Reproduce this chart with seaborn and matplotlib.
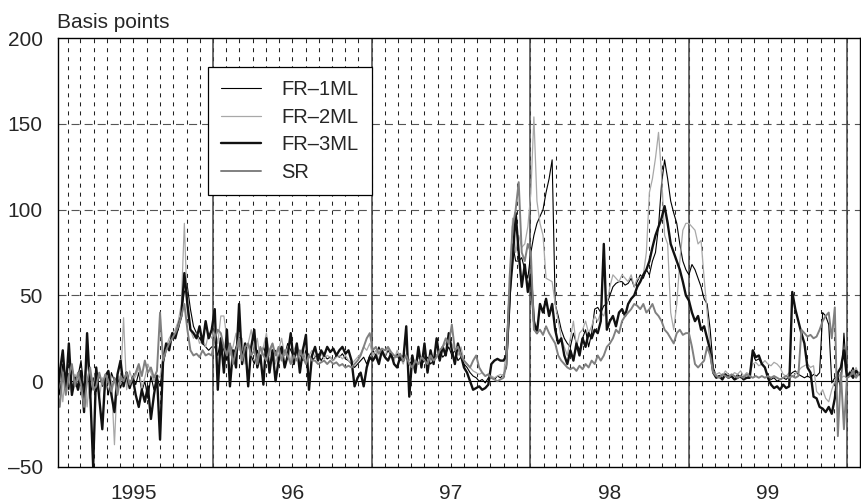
import numpy as np
import pandas as pd
import matplotlib.pyplot as plt
import seaborn as sns

# Weekly observations (Fridays), spreads in basis points
weeks = pd.date_range('1995-01-06', '2000-01-28', freq='W-FRI')

fr1ml = [
    # 1995
    5, -8, 10, 2, -5, 8, 0, 3, 12, -5, 20, -10, 2,
    -6, 4, -3, 2, -8, 5, 0, 3, -4, 2, 0, -3, 3,
    -2, 5, -6, 0, -10, 3, -5, 2, -3, 10, 18, 22, 25,
    28, 30, 40, 52, 55, 42, 32, 28, 25, 22, 20, 18, 20,
    # 1996
    20, 15, 25, 18, 12, 22, 15, 20, 25, 12, 18, 22, 15,
    10, 18, 12, 20, 15, 8, 14, 18, 12, 20, 15, 22, 18,
    14, 20, 16, 12, 18, 15, 12, 14, 16, 12, 15, 13, 14,
    12, 15, 14, 16, 13, 12, 10, 8, 10, 12, 14, 10, 15,
    # 1997
    18, 15, 20, 16, 14, 18, 15, 13, 16, 12, 15, 14, 10,
    12, 8, 15, 10, 12, 14, 10, 12, 15, 18, 14, 16, 20,
    15, 18, 12, 14, 10, 8, 5, 3, 2, 0, 1, -1, 2,
    2, 1, 3, 2, 4, 8, 40, 80, 70, 70, 72, 65, 60,
    # 1998
    75, 85, 92, 96, 100, 110, 118, 129, 45, 38, 30, 25, 22,
    20, 28, 22, 18, 25, 30, 20, 28, 42, 43, 40, 44, 45,
    50, 55, 57, 58, 58, 56, 57, 60, 55, 58, 62, 60, 65,
    62, 70, 75, 90, 115, 129, 118, 105, 98, 92, 80, 70, 65,
    # 1999
    62, 68, 65, 60, 55, 48, 45, 30, 8, 3, 2, 4, 3,
    2, 3, 1, 4, 2, 3, 2, 3, 16, 12, 13, 10, 8,
    3, 1, 2, 0, 1, 2, 1, 3, 5, 6, 4, 3, 2,
    3, 2, 4, 3, 5, 40, 38, 33, -1, 2, 3, -5, 28, 2,
    # 2000
    4, 8, 3, 5,
]

fr2ml = [
    # 1995
    -5, 8, -12, 5, 2, -8, 4, 0, -6, 3, -15, 5, -3,
    8, -10, 2, -5, 6, 0, -37, 4, -2, 37, -5, 6, 0,
    3, 8, -4, 2, 10, 5, 0, 4, 2, 15, 20, 25, 28,
    30, 35, 45, 92, 40, 30, 25, 28, 22, 25, 20, 28, 25,
    # 1996
    30, 22, 38, 38, 25, 15, 20, 28, 18, 25, 10, 22, 30,
    18, 25, 12, 20, 28, 15, 22, 10, 18, 25, 15, 20, 12,
    18, 22, 15, 20, 12, 15, 18, 14, 12, 16, 13, 15, 14,
    12, 14, 15, 13, 15, 12, 10, 12, 14, 16, 20, 18, 22,
    # 1997
    15, 18, 12, 16, 14, 20, 15, 12, 18, 14, 10, 16, 12,
    15, 10, 14, 12, 16, 10, 14, 12, 15, 18, 20, 22, 25,
    22, 18, 15, 20, 12, 10, 8, 6, 5, 4, 5, 3, 4,
    3, 2, 3, 4, 3, 20, 50, 95, 75, 85, 78, 80, 90,
    # 1998
    110, 154, 105, 92, 85, 60, 59, 58, 45, 35, 25, 20, 15,
    25, 35, 20, 28, 30, 35, 28, 32, 38, 35, 40, 38, 45,
    55, 62, 60, 58, 62, 60, 58, 62, 55, 60, 60, 62, 75,
    110, 118, 130, 145, 120, 85, 80, 40, 30, 45, 70, 88, 92,
    # 1999
    92, 90, 88, 80, 82, 60, 40, 20, 6, 4, 5, 3, 6,
    4, 3, 5, 4, 6, 3, 5, 4, 10, 11, 9, 10, 12,
    10, 9, 11, 10, 8, 4, 3, 5, 3, 4, 6, 8, 9,
    10, 8, 9, -6, -8, -5, -10, -12, -5, 0, 5, 2, 3, 2,
    # 2000
    6, 4, 8, 3,
]

fr3ml = [
    # 1995
    -12, 5, 18, -5, 22, -8, 2, -5, 6, -18, 28, -5, -50,
    8, -10, -28, 3, 6, -8, -18, 4, 12, -3, 5, -4, 2,
    -8, -15, -5, -12, -3, -22, -8, 3, -34, 12, 22, 18, 28,
    25, 32, 38, 63, 45, 30, 28, 25, 32, 22, 35, 25, 30,
    # 1996
    42, -5, 25, 5, 30, -3, 18, 8, 45, 10, 22, -3, 20,
    30, 8, 15, -2, 25, 5, 18, 0, 12, 20, 8, 15, 28,
    10, 22, 5, 18, 27, -5, 15, 20, 12, 18, 15, 20, 17,
    19, 15, 18, 20, 16, 18, 12, -3, 2, 5, -3, 8, 14,
    # 1997
    12, 15, 10, 18, 14, 12, 16, 10, 8, 14, 12, 32, -9,
    15, 5, 20, 8, 22, 5, 18, 10, 25, 12, 20, 15, 28,
    18, 10, 22, 15, 8, 5, 0, -5, -4, -3, -5, -4, -2,
    10, 12, 13, 12, 12, 15, 50, 70, 98, 75, 55, 68, 52,
    # 1998
    62, 35, 28, 45, 40, 48, 38, 45, 30, 22, 25, 15, 10,
    18, 12, 22, 15, 25, 20, 28, 25, 30, 28, 35, 80, 30,
    35, 38, 32, 40, 42, 38, 45, 48, 50, 55, 58, 62, 65,
    70, 78, 85, 90, 95, 102, 92, 80, 75, 70, 65, 58, 50,
    # 1999
    47, 40, 35, 38, 30, 32, 25, 18, 5, 2, 3, 1, 4,
    2, 3, 1, 2, 3, 1, 2, 2, 18, 14, 15, 10, 8,
    2, -2, -4, -3, -5, -2, -4, -3, 52, 42, 35, 28, 22,
    8, 5, -9, -10, -15, -16, -18, -15, -19, -10, 5, 8, 18, 2,
    # 2000
    5, 2, 6, 4,
]

sr = [
    # 1995
    -5, -15, 5, -8, 3, 10, -3, 5, -2, -15, 0, 8, -5,
    -3, 5, -2, 4, 0, -6, 2, -8, 3, 0, 5, -2, 2,
    5, 10, 3, 12, 5, 8, 2, 6, 40, 12, 18, 22, 25,
    28, 32, 38, 45, 30, 18, 15, 16, 14, 18, 15, 16, 15,
    # 1996
    25, 30, 28, 20, 15, 22, 10, 18, 25, 12, 20, 22, 15,
    18, 10, 20, 15, 12, 18, 22, 15, 20, 12, 18, 15, 10,
    15, 12, 18, 14, 10, 15, 12, 12, 10, 11, 12, 10, 12,
    10, 11, 9, 10, 8, 9, 8, 10, 12, 15, 20, 25, 28,
    # 1997
    18, 20, 16, 19, 18, 20, 17, 15, 14, 16, 12, 15, 10,
    8, 12, 10, 14, 12, 10, 15, 12, 14, 18, 20, 25, 22,
    33, 18, 20, 15, 12, 10, 8, 12, 15, 8, 5, 3, 4,
    2, 1, 0, 1, 2, 10, 60, 90, 100, 116, 75, 70, 80,
    # 1998
    75, 30, 28, 30, 27, 32, 28, 25, 22, 15, 12, 10, 8,
    7, 8, 6, 9, 7, 10, 8, 12, 10, 15, 12, 15, 20,
    22, 25, 30, 28, 35, 38, 40, 42, 45, 44, 42, 45, 40,
    42, 45, 40, 38, 35, 30, 28, 25, 22, 28, 30, 27, 28,
    # 1999
    28, 20, 10, 8, 10, 12, 20, 15, 5, 3, 2, 4, 3,
    2, 4, 3, 2, 3, 2, 4, 3, 2, 3, 2, 3, 2,
    3, 2, 3, 2, 1, 2, 3, 2, 3, 2, 3, 30, 28,
    26, 27, 25, 26, 30, 35, 38, 40, 25, 43, -32, 5, -28, 2,
    # 2000
    3, 6, 2, 5,
]

series_names = ['FR–1ML', 'FR–2ML', 'FR–3ML', 'SR']
year_labels = ['1995', '96', '97', '98', '99']
ytick_vals = [-50, 0, 50, 100, 150, 200]
ytick_labels = ['–50', '0', '50', '100', '150', '200']

palette = {'FR–1ML': '#000000', 'FR–2ML': '#a8a8a8', 'FR–3ML': '#111111', 'SR': '#808080'}
widths = {'FR–1ML': 0.8, 'FR–2ML': 0.9, 'FR–3ML': 1.7, 'SR': 1.4}

all_vals = [fr1ml, fr2ml, fr3ml, sr]
for v in all_vals:
    assert len(v) == len(weeks), len(v)

df = pd.DataFrame({
    'date': np.tile(weeks, len(series_names)),
    'bp': np.concatenate(all_vals),
    'series': np.repeat(series_names, len(weeks)),
})

sns.set_style('white')
plt.rcParams['font.family'] = ['Liberation Sans', 'DejaVu Sans']
plt.rcParams['lines.scale_dashes'] = False

fig = plt.figure(figsize=(8.62, 5.01), dpi=100)
ax = fig.add_axes([58 / 862, 34 / 501, 802 / 862, 429 / 501])

# grid: monthly dashed verticals, solid year boundaries, dashed horizontals
months = pd.date_range('1995-02-01', '2000-01-01', freq='MS')
for m in months:
    ax.axvline(m, color='#222222', lw=0.75, ls=(0, (2.9, 3.6)), zorder=0.5)
for y in pd.date_range('1996-01-01', '2000-01-01', freq='YS'):
    ax.axvline(y, color='#444444', lw=1.1, zorder=0.6)
for v in [50, 100, 150]:
    ax.axhline(v, color='#555555', lw=0.8, ls=(0, (5.8, 3.6)), zorder=0.5)
ax.axhline(0, color='black', lw=0.8, zorder=0.6)

sns.lineplot(data=df, x='date', y='bp', hue='series', size='series',
             hue_order=series_names, size_order=series_names,
             palette=palette, sizes=widths, estimator=None, errorbar=None,
             ax=ax, zorder=2)

ax.set_xlim(pd.Timestamp('1995-01-09'), pd.Timestamp('2000-01-30'))
ax.set_ylim(-50, 200)
ax.set_yticks(ytick_vals)
ax.set_yticklabels(ytick_labels, fontsize=15)
mid_years = pd.date_range('1995-07-02', periods=len(year_labels), freq=pd.DateOffset(years=1))
ax.set_xticks(mid_years)
ax.set_xticklabels(year_labels, fontsize=15)
ax.tick_params(axis='x', length=0, pad=12)
ax.tick_params(axis='y', length=0, pad=11)
ax.set_xlabel('')
ax.set_ylabel('')
ax.grid(False)
for s in ax.spines.values():
    s.set_color('black')
    s.set_linewidth(1.0)

handles, labels = ax.get_legend_handles_labels()
keep = [(h, l) for h, l in zip(handles, labels) if l in series_names]
leg = ax.legend([h for h, _ in keep], [l for _, l in keep],
                loc='upper left', bbox_to_anchor=(0.187, 0.932),
                borderaxespad=0, frameon=True, fancybox=False, framealpha=1,
                edgecolor='black', fontsize=14.5, borderpad=0.65,
                labelspacing=0.42, handlelength=2.0, handletextpad=1.0)
leg.get_frame().set_linewidth(0.9)
leg.set_zorder(5)

fig.text(57 / 862, 1 - 28 / 501, 'Basis points', fontsize=15, ha='left', va='baseline')

fig.savefig('out.png', dpi=100)
